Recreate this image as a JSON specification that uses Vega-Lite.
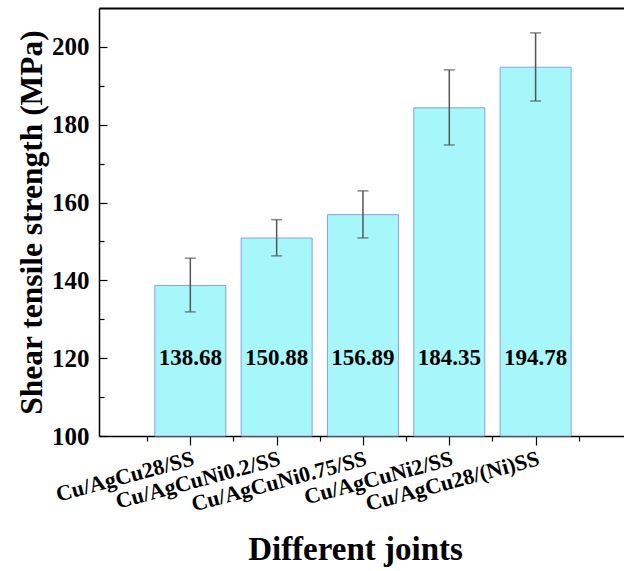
{
  "$schema": "https://vega.github.io/schema/vega-lite/v6.json",
  "autosize": {"type": "none"},
  "padding": {"left": 99, "top": 8, "right": 0, "bottom": 135},
  "width": 525,
  "height": 428,
  "background": "white",
  "config": {
    "view": {"stroke": null},
    "font": "Liberation Serif",
    "axis": {"labelFont": "Liberation Serif", "titleFont": "Liberation Serif", "labelFontWeight": "bold", "titleFontWeight": "bold", "labelColor": "black", "titleColor": "black", "domainColor": "black", "tickColor": "black", "grid": false, "domainWidth": 1.5, "tickWidth": 1.2}
  },
  "data": {"values": [
    {"joint": "Cu/AgCu28/SS", "idx": 1, "strength": 138.68, "lo": 131.9, "hi": 145.7},
    {"joint": "Cu/AgCuNi0.2/SS", "idx": 2, "strength": 150.88, "lo": 146.3, "hi": 155.6},
    {"joint": "Cu/AgCuNi0.75/SS", "idx": 3, "strength": 156.89, "lo": 150.9, "hi": 163.0},
    {"joint": "Cu/AgCuNi2/SS", "idx": 4, "strength": 184.35, "lo": 174.8, "hi": 194.1},
    {"joint": "Cu/AgCu28/(Ni)SS", "idx": 5, "strength": 194.78, "lo": 186.1, "hi": 203.6}
  ]},
  "resolve": {"axis": {"x": "independent", "y": "independent"}},
  "layer": [
    {
      "mark": {"type": "bar", "width": 71, "fill": "#A5F7FA", "stroke": "#8A9EF0", "strokeWidth": 1},
      "encoding": {
        "x": {"field": "idx", "type": "quantitative", "scale": {"domain": [0, 5.966], "nice": false, "zero": false},
          "axis": {"orient": "bottom", "values": [1, 2, 3, 4, 5], "tickSize": 9, "labelAngle": -15, "labelAlign": "right", "labelBaseline": "top", "labelFontSize": 22, "labelPadding": 3, "labelOverlap": false, "labelLimit": 400,
            "labelExpr": "['','Cu/AgCu28/SS','Cu/AgCuNi0.2/SS','Cu/AgCuNi0.75/SS','Cu/AgCuNi2/SS','Cu/AgCu28/(Ni)SS'][datum.value]",
            "title": "Different joints", "titleFontSize": 33, "titleY": 123, "titleX": 256, "titleAlign": "center", "titleBaseline": "alphabetic"}},
        "y": {"field": "strength", "type": "quantitative", "scale": {"domain": [100, 210], "nice": false, "zero": false},
          "axis": {"orient": "left", "values": [100, 120, 140, 160, 180, 200], "tickSize": -8, "labelPadding": 18, "labelFontSize": 25,
            "title": "Shear tensile strength (MPa)", "titleFontSize": 31.5, "titlePadding": 3, "titleY": 214}},
        "y2": {"datum": 100}
      }
    },
    {
      "mark": {"type": "rule", "color": "#555555", "strokeWidth": 1.5},
      "encoding": {
        "x": {"field": "idx", "type": "quantitative", "axis": {"orient": "bottom", "values": [0.5, 1.5, 2.5, 3.5, 4.5, 5.5], "tickSize": 5, "labels": false, "domain": false, "title": null}},
        "y": {"field": "lo", "type": "quantitative", "axis": {"orient": "left", "values": [110, 130, 150, 170, 190], "tickSize": -5, "labels": false, "domain": false, "title": null}},
        "y2": {"field": "hi"}
      }
    },
    {
      "mark": {"type": "tick", "orient": "horizontal", "color": "#555555", "size": 11, "thickness": 1.5},
      "encoding": {
        "x": {"field": "idx", "type": "quantitative", "axis": {"orient": "top", "ticks": false, "labels": false, "title": null, "domainWidth": 2}},
        "y": {"field": "lo", "type": "quantitative", "axis": null}
      }
    },
    {
      "mark": {"type": "tick", "orient": "horizontal", "color": "#555555", "size": 11, "thickness": 1.5},
      "encoding": {
        "x": {"field": "idx", "type": "quantitative", "axis": null},
        "y": {"field": "hi", "type": "quantitative", "axis": null}
      }
    },
    {
      "mark": {"type": "text", "font": "Liberation Serif", "fontWeight": "bold", "fontSize": 23, "color": "black", "baseline": "middle", "align": "center"},
      "encoding": {
        "x": {"field": "idx", "type": "quantitative", "axis": null},
        "y": {"datum": 120, "type": "quantitative", "axis": null},
        "text": {"field": "strength", "type": "quantitative", "format": ".2f"}
      }
    }
  ]
}
